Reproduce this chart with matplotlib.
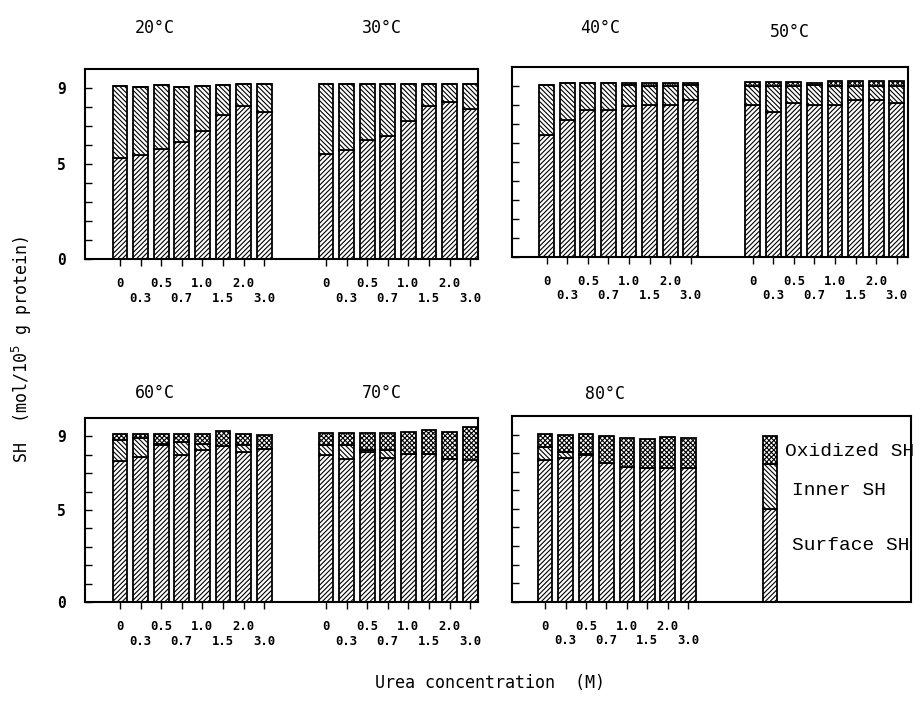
import matplotlib
matplotlib.use("Agg")
import matplotlib.pyplot as plt
import numpy as np

# -----------------------------------------------------------------------
#  Data (mol SH / 10^5 g protein), 8 urea concentrations per temperature
# -----------------------------------------------------------------------
UREA_TOP = ["0", "", "0.5", "", "1.0", "", "2.0", ""]
UREA_BOTTOM = ["", "0.3", "", "0.7", "", "1.5", "", "3.0"]

TEMPS = ["20°C", "30°C", "40°C", "50°C", "60°C", "70°C", "80°C"]

surface_20 = [5.33, 5.49, 5.78, 6.18, 6.75, 7.58, 8.05, 7.77]
inner_20 = [3.79, 3.56, 3.39, 2.87, 2.37, 1.61, 1.20, 1.48]
oxid_20 = [0, 0, 0, 0, 0, 0, 0, 0]

surface_30 = [5.53, 5.75, 6.28, 6.49, 7.28, 8.07, 8.26, 7.89]
inner_30 = [3.69, 3.48, 2.95, 2.74, 1.96, 1.17, 0.99, 1.36]
oxid_30 = [0, 0, 0, 0, 0, 0, 0, 0]

surface_40 = [6.41, 7.20, 7.73, 7.73, 7.96, 8.03, 8.00, 8.26]
inner_40 = [2.68, 1.99, 1.42, 1.42, 1.09, 1.00, 1.04, 0.79]
oxid_40 = [0, 0, 0, 0, 0.12, 0.14, 0.13, 0.13]

surface_50 = [8.00, 7.65, 8.10, 8.03, 8.02, 8.28, 8.28, 8.12]
inner_50 = [1.03, 1.38, 0.93, 1.05, 1.02, 0.76, 0.74, 0.92]
oxid_50 = [0.20, 0.20, 0.20, 0.12, 0.22, 0.22, 0.24, 0.22]

surface_60 = [7.69, 7.88, 8.55, 8.00, 8.24, 8.49, 8.15, 8.30]
inner_60 = [1.09, 1.03, 0.05, 0.69, 0.36, 0.00, 0.40, 0.03]
oxid_60 = [0.35, 0.22, 0.53, 0.44, 0.53, 0.82, 0.58, 0.77]

surface_70 = [7.97, 7.78, 8.15, 7.82, 8.06, 8.06, 7.78, 7.73]
inner_70 = [0.58, 0.73, 0.12, 0.45, 0.00, 0.00, 0.00, 0.00]
oxid_70 = [0.63, 0.67, 0.91, 0.91, 1.16, 1.30, 1.48, 1.76]

surface_80 = [7.63, 7.73, 7.90, 7.49, 7.27, 7.22, 7.19, 7.22]
inner_80 = [0.72, 0.35, 0.04, 0.00, 0.00, 0.00, 0.00, 0.00]
oxid_80 = [0.69, 0.90, 1.10, 1.44, 1.57, 1.53, 1.70, 1.58]

# legend bar (illustrative stack)
LEGEND_LABELS = ["Surface SH", "Inner SH", "Oxidized SH"]
legend_stack = [4.97, 2.44, 1.51]

HATCHES = ["///////", "\\\\\\\\\\\\\\", "xxxxxxx"]
BAR_W = 0.72

plt.rcParams["hatch.linewidth"] = 0.8
MONO = "DejaVu Sans Mono"

W, H = 923, 712
fig = plt.figure(figsize=(W / 100, H / 100), dpi=100)


def px_axes(left, right, top, bottom):
    return fig.add_axes([left / W, 1 - bottom / H, (right - left) / W, (bottom - top) / H])


def draw_group(ax, x0, surf, inner, oxid):
    x = np.arange(len(surf)) + x0
    surf = np.array(surf)
    inner = np.array(inner)
    oxid = np.array(oxid)
    kw = dict(width=BAR_W, color="white", edgecolor="black", linewidth=1.3)
    ax.bar(x, surf, hatch=HATCHES[0], **kw)
    ax.bar(x, inner, bottom=surf, hatch=HATCHES[1], **kw)
    ax.bar(x, oxid, bottom=surf + inner, hatch=HATCHES[2], **kw)


def style_axes(ax, xlim, groups, ylabels=True):
    ax.set_xlim(*xlim)
    ax.set_ylim(0, 10)
    for s in ax.spines.values():
        s.set_linewidth(1.5)
    ticks, labels = [], []
    for g in groups:
        for i in range(8):
            ticks.append(g + i)
            labels.append(UREA_TOP[i] if UREA_TOP[i] else "\n" + UREA_BOTTOM[i])
    ax.set_xticks(ticks)
    ax.set_xticklabels(labels, fontsize=8.8, family=MONO, fontweight="bold",
                       linespacing=1.15)
    ax.tick_params(axis="x", direction="out", length=5, width=1.0, pad=8)
    ax.set_yticks(range(10))
    if ylabels:
        ax.set_yticklabels(["0", "", "", "", "", "5", "", "", "", "9"],
                           fontsize=10.5, family=MONO, fontweight="bold")
    else:
        ax.set_yticklabels([])
    ax.tick_params(axis="y", direction="in", length=5, width=1.0, pad=14)


# top-left: 20 / 30 C
ax1 = px_axes(85, 478, 69.3, 259.3)
draw_group(ax1, 0, surface_20, inner_20, oxid_20)
draw_group(ax1, 10, surface_30, inner_30, oxid_30)
style_axes(ax1, (-1.70, 17.38), [0, 10])

# top-right: 40 / 50 C
ax2 = px_axes(512, 908, 67.4, 256.7)
draw_group(ax2, 0, surface_40, inner_40, oxid_40)
draw_group(ax2, 10, surface_50, inner_50, oxid_50)
style_axes(ax2, (-1.68, 17.54), [0, 10], ylabels=False)

# bottom-left: 60 / 70 C
ax3 = px_axes(85, 478, 418, 602)
draw_group(ax3, 0, surface_60, inner_60, oxid_60)
draw_group(ax3, 10, surface_70, inner_70, oxid_70)
style_axes(ax3, (-1.70, 17.38), [0, 10])

# bottom-right: 80 C + legend bar
ax4 = px_axes(512, 911, 416, 601.7)
draw_group(ax4, 0, surface_80, inner_80, oxid_80)
style_axes(ax4, (-1.62, 17.89), [0], ylabels=False)
bottom = 0
for val, lab, hatch, ty, tx in zip(legend_stack, LEGEND_LABELS, HATCHES,
                                   [3.05, 6.0, 8.08], [12.05, 12.05, 11.75]):
    ax4.bar(11, val, bottom=bottom, width=BAR_W, color="white",
            edgecolor="black", linewidth=1.3, hatch=hatch)
    bottom += val
    ax4.text(tx, ty, lab, family="Liberation Mono", fontsize=14,
             va="center", ha="left", clip_on=False)

# panel titles
title_pos = [(155, 28), (382, 28), (600, 28), (790, 32),
             (155, 393), (382, 393), (605, 394)]
for t, (x, y) in zip(TEMPS, title_pos):
    fig.text(x / W, 1 - y / H, t, family=MONO, fontsize=12,
             ha="center", va="center")

fig.text(22 / W, 1 - 350 / H, "SH  (mol/10$^5$ g protein)", family=MONO,
         fontsize=12, rotation=90, ha="center", va="center")
fig.text(490 / W, 1 - 683 / H, "Urea concentration  (M)", family=MONO,
         fontsize=12, ha="center", va="center")

fig.savefig("out.png", dpi=100)
